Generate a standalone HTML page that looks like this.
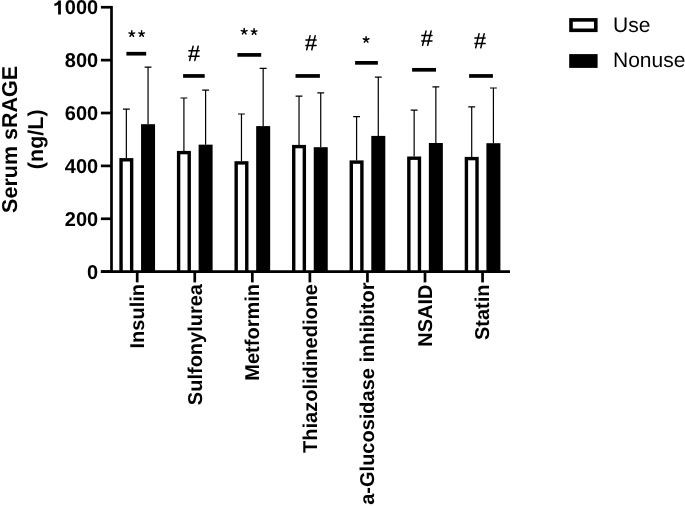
<!DOCTYPE html><html><head><meta charset="utf-8"><style>html,body{margin:0;padding:0;background:#fff;}body{width:685px;height:506px;overflow:hidden;}svg{display:block;will-change:transform;}text{font-family:"Liberation Sans",sans-serif;text-rendering:geometricPrecision;}</style></head><body>
<svg width="685" height="506" viewBox="0 0 685 506">
<rect x="0" y="0" width="685" height="506" fill="#fff"/>
<path d="M126.35 158.10V109.10M122.90 109.10H129.80M148.05 124.20V67.10M144.60 67.10H151.50" stroke="#000" stroke-width="1.20" fill="none"/>
<rect x="119.35" y="158.10" width="14.00" height="113.55" fill="#000"/>
<rect x="122.75" y="161.50" width="7.20" height="110.15" fill="#fff"/>
<rect x="141.05" y="124.20" width="14.00" height="147.45" fill="#000"/>
<rect x="126.40" y="51.85" width="19.80" height="3.7" fill="#000"/>
<path d="M183.91 150.90V98.00M180.46 98.00H187.36M205.61 144.65V90.15M202.16 90.15H209.06" stroke="#000" stroke-width="1.20" fill="none"/>
<rect x="176.91" y="150.90" width="14.00" height="120.75" fill="#000"/>
<rect x="180.31" y="154.30" width="7.20" height="117.35" fill="#fff"/>
<rect x="198.61" y="144.65" width="14.00" height="127.00" fill="#000"/>
<rect x="183.10" y="74.10" width="21.60" height="3.7" fill="#000"/>
<path d="M241.47 161.20V114.00M238.02 114.00H244.92M263.17 126.10V68.30M259.72 68.30H266.62" stroke="#000" stroke-width="1.20" fill="none"/>
<rect x="234.47" y="161.20" width="14.00" height="110.45" fill="#000"/>
<rect x="237.87" y="164.60" width="7.20" height="107.05" fill="#fff"/>
<rect x="256.17" y="126.10" width="14.00" height="145.55" fill="#000"/>
<rect x="237.40" y="53.05" width="23.80" height="3.7" fill="#000"/>
<path d="M299.03 144.90V96.20M295.58 96.20H302.48M320.73 147.20V92.80M317.28 92.80H324.18" stroke="#000" stroke-width="1.20" fill="none"/>
<rect x="292.03" y="144.90" width="14.00" height="126.75" fill="#000"/>
<rect x="295.43" y="148.30" width="7.20" height="123.35" fill="#fff"/>
<rect x="313.73" y="147.20" width="14.00" height="124.45" fill="#000"/>
<rect x="295.50" y="74.10" width="24.40" height="3.7" fill="#000"/>
<path d="M356.59 160.40V116.60M353.14 116.60H360.04M378.29 135.90V77.20M374.84 77.20H381.74" stroke="#000" stroke-width="1.20" fill="none"/>
<rect x="349.59" y="160.40" width="14.00" height="111.25" fill="#000"/>
<rect x="352.99" y="163.80" width="7.20" height="107.85" fill="#fff"/>
<rect x="371.29" y="135.90" width="14.00" height="135.75" fill="#000"/>
<rect x="355.10" y="61.00" width="22.75" height="3.7" fill="#000"/>
<path d="M414.15 156.50V110.20M410.70 110.20H417.60M435.85 143.00V86.80M432.40 86.80H439.30" stroke="#000" stroke-width="1.20" fill="none"/>
<rect x="407.15" y="156.50" width="14.00" height="115.15" fill="#000"/>
<rect x="410.55" y="159.90" width="7.20" height="111.75" fill="#fff"/>
<rect x="428.85" y="143.00" width="14.00" height="128.65" fill="#000"/>
<rect x="412.10" y="67.95" width="23.90" height="3.7" fill="#000"/>
<path d="M471.71 156.90V106.80M468.26 106.80H475.16M493.41 143.20V88.00M489.96 88.00H496.86" stroke="#000" stroke-width="1.20" fill="none"/>
<rect x="464.71" y="156.90" width="14.00" height="114.75" fill="#000"/>
<rect x="468.11" y="160.30" width="7.20" height="111.35" fill="#fff"/>
<rect x="486.41" y="143.20" width="14.00" height="128.45" fill="#000"/>
<rect x="469.10" y="74.10" width="23.80" height="3.7" fill="#000"/>
<path d="M111.50 5.90V273.00" stroke="#000" stroke-width="2.70"/>
<path d="M100.9 271.65H510" stroke="#000" stroke-width="2.70"/>
<path d="M100.9 271.65H111.50" stroke="#000" stroke-width="2.70"/>
<text x="98.2" y="278.85" font-size="20" font-weight="bold" text-anchor="end">0</text>
<path d="M100.9 218.77H111.50" stroke="#000" stroke-width="2.70"/>
<text x="98.2" y="225.97" font-size="20" font-weight="bold" text-anchor="end">200</text>
<path d="M100.9 165.89H111.50" stroke="#000" stroke-width="2.70"/>
<text x="98.2" y="173.09" font-size="20" font-weight="bold" text-anchor="end">400</text>
<path d="M100.9 113.01H111.50" stroke="#000" stroke-width="2.70"/>
<text x="98.2" y="120.21" font-size="20" font-weight="bold" text-anchor="end">600</text>
<path d="M100.9 60.13H111.50" stroke="#000" stroke-width="2.70"/>
<text x="98.2" y="67.33" font-size="20" font-weight="bold" text-anchor="end">800</text>
<path d="M100.9 7.25H111.50" stroke="#000" stroke-width="2.70"/>
<text x="98.2" y="14.45" font-size="20" font-weight="bold" text-anchor="end">000</text>
<path d="M60.9 0.5L60.9 14.4L58.1 14.4L58.1 4.6C57.3 5.3 56 5.9 54.4 6.0L54.4 3.6C56.2 3.2 57.8 2.2 58.4 0.5Z" fill="#000"/>
<path d="M137.20 271.65V282.4" stroke="#000" stroke-width="2.70"/>
<text x="0" y="0" font-size="20" font-weight="bold" text-anchor="end" transform="translate(144.00,284.00) rotate(-90)">Insulin</text>
<path d="M194.76 271.65V282.4" stroke="#000" stroke-width="2.70"/>
<text x="0" y="0" font-size="20" font-weight="bold" text-anchor="end" transform="translate(201.56,284.00) rotate(-90)">Sulfonylurea</text>
<path d="M252.32 271.65V282.4" stroke="#000" stroke-width="2.70"/>
<text x="0" y="0" font-size="20" font-weight="bold" text-anchor="end" transform="translate(259.12,284.00) rotate(-90)">Metformin</text>
<path d="M309.88 271.65V282.4" stroke="#000" stroke-width="2.70"/>
<text x="0" y="0" font-size="20" font-weight="bold" text-anchor="end" transform="translate(316.68,284.00) rotate(-90)">Thiazolidinedione</text>
<path d="M367.44 271.65V282.4" stroke="#000" stroke-width="2.70"/>
<text x="0" y="0" font-size="20" font-weight="bold" text-anchor="end" transform="translate(374.24,282.50) rotate(-90)">a-Glucosidase inhibitor</text>
<path d="M425.00 271.65V282.4" stroke="#000" stroke-width="2.70"/>
<text x="0" y="0" font-size="20" font-weight="bold" text-anchor="end" transform="translate(431.80,284.50) rotate(-90)">NSAID</text>
<path d="M482.56 271.65V282.4" stroke="#000" stroke-width="2.70"/>
<text x="0" y="0" font-size="20" font-weight="bold" text-anchor="end" transform="translate(489.36,284.50) rotate(-90)">Statin</text>
<path d="M131.80 33.80L131.80 30.80M131.80 33.80L134.65 32.87M131.80 33.80L133.56 36.23M131.80 33.80L130.04 36.23M131.80 33.80L128.95 32.87M141.60 33.80L141.60 30.80M141.60 33.80L144.45 32.87M141.60 33.80L143.36 36.23M141.60 33.80L139.84 36.23M141.60 33.80L138.75 32.87M244.20 31.50L244.20 28.50M244.20 31.50L247.05 30.57M244.20 31.50L245.96 33.93M244.20 31.50L242.44 33.93M244.20 31.50L241.35 30.57M254.10 31.80L254.10 28.80M254.10 31.80L256.95 30.87M254.10 31.80L255.86 34.23M254.10 31.80L252.34 34.23M254.10 31.80L251.25 30.87M366.10 39.70L366.10 36.70M366.10 39.70L368.95 38.77M366.10 39.70L367.86 42.13M366.10 39.70L364.34 42.13M366.10 39.70L363.25 38.77" stroke="#000" stroke-width="1.45" stroke-linecap="round" fill="none"/>
<path d="M188.90 50.70H199.10M188.90 56.20H199.10M193.10 46.30L189.70 60.40M198.20 46.30L194.80 60.40M305.90 40.05H316.10M305.90 45.55H316.10M310.10 35.65L306.70 49.75M315.20 35.65L311.80 49.75M421.80 35.50H432.00M421.80 41.00H432.00M426.00 31.10L422.60 45.20M431.10 31.10L427.70 45.20M474.90 38.05H485.10M474.90 43.55H485.10M479.10 33.65L475.70 47.75M484.20 33.65L480.80 47.75" stroke="#000" stroke-width="1.5" stroke-linecap="round" fill="none"/>
<text x="0" y="0" font-size="21.5" font-weight="bold" text-anchor="middle" transform="translate(16.5,139.4) rotate(-90)">Serum sRAGE</text>
<text x="0" y="0" font-size="21.5" font-weight="bold" text-anchor="middle" transform="translate(42.7,139.3) rotate(-90)">(ng/L)</text>
<rect x="571.00" y="19.90" width="24.80" height="10.40" fill="#fff" stroke="#000" stroke-width="3.6"/>
<rect x="569.2" y="54.1" width="28.4" height="13.8" fill="#000"/>
<text x="0" y="0" font-size="21" transform="translate(613,31.5) scale(1,1)">Use</text>
<text x="0" y="0" font-size="21" transform="translate(613,67.2) scale(1,1)">Nonuse</text>
</svg></body></html>
